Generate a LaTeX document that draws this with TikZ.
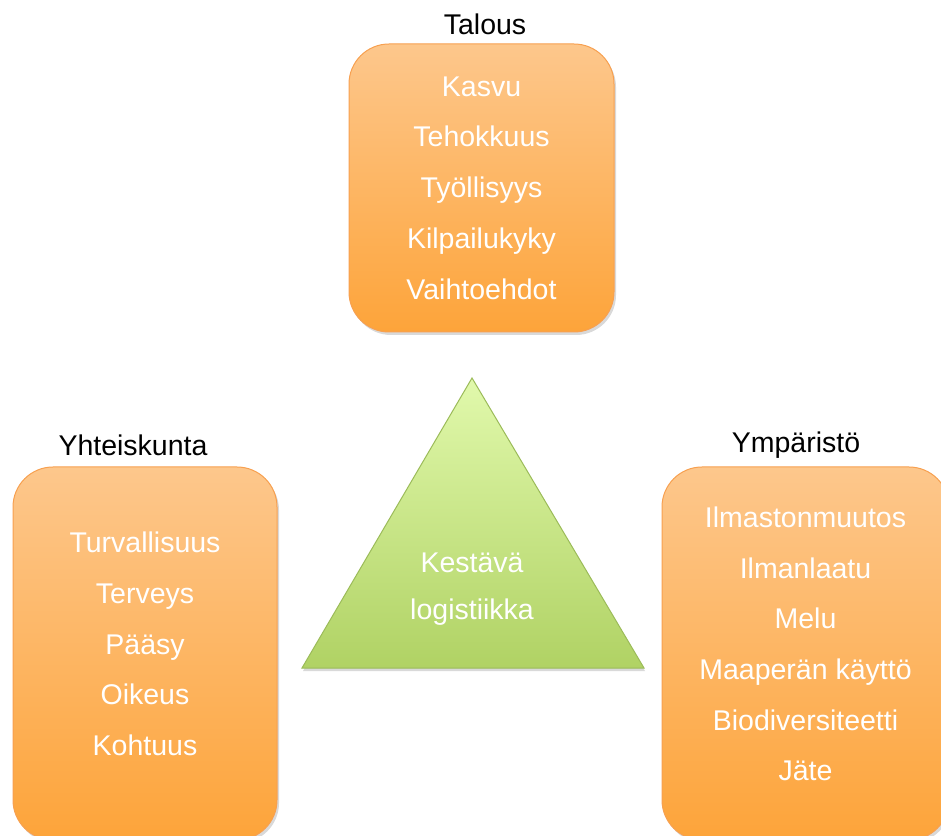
\documentclass[tikz,border=0pt]{standalone}
\usepackage{fontspec}
\setmainfont{Liberation Sans}
\usetikzlibrary{shadows}
\definecolor{oTop}{RGB}{253,199,140}
\definecolor{oBot}{RGB}{253,164,58}
\definecolor{oLine}{RGB}{247,160,80}
\definecolor{gTop}{RGB}{225,249,172}
\definecolor{gBot}{RGB}{176,210,100}
\definecolor{gLine}{RGB}{155,187,89}

\begin{document}
\begin{tikzpicture}[
  x=1pt, y=1pt,
  box/.style={draw=oLine, line width=1pt, rounded corners=40pt, top color=oTop, bottom color=oBot,
    drop shadow={shadow xshift=2pt, shadow yshift=-3pt, opacity=0.3}},
  tri/.style={draw=gLine, line width=1pt, top color=gTop, bottom color=gBot,
    drop shadow={shadow xshift=1pt, shadow yshift=-3pt, opacity=0.3}},
  item/.style={text=white, align=center, font=\fontsize{28.5}{50.7}\selectfont},
  trilabel/.style={text=white, align=center, font=\fontsize{28.5}{47}\selectfont},
  head/.style={font=\fontsize{28.5}{32}\selectfont}
]
  \useasboundingbox (0,0) rectangle (941,835);
  \node[box, minimum width=265pt, minimum height=288pt] (talousbox) at (481.5,647) {};
  \node[box, minimum width=264pt, minimum height=373pt] (yhteisbox) at (145,181.5) {};
  \node[box, minimum width=287pt, minimum height=373pt] (ymparbox) at (805.5,181.5) {};
  \node[item] (talous) at (talousbox.center) {Kasvu\\Tehokkuus\\Työllisyys\\Kilpailukyky\\Vaihtoehdot};
  \node[item] (yhteis) at ([yshift=9.5pt]yhteisbox.center) {Turvallisuus\\Terveys\\Pääsy\\Oikeus\\Kohtuus};
  \node[item] (ympar) at ([yshift=9.5pt]ymparbox.center) {Ilmastonmuutos\\Ilmanlaatu\\Melu\\Maaperän käyttö\\Biodiversiteetti\\Jäte};
  \node[head] (taloushead) at (485,811) {Talous};
  \node[head] (yhteishead) at (133,390) {Yhteiskunta};
  \node[head] (ymparhead) at (796,390) {Ympäristö};
  \coordinate (apex) at (472,457);
  \coordinate (left) at (302,167);
  \coordinate (right) at (644,167);
  \path[tri] (apex) -- (right) -- (left) -- cycle;
  \node[trilabel] (kestava) at (472,245.5) {Kestävä\\logistiikka};
\end{tikzpicture}
\end{document}
